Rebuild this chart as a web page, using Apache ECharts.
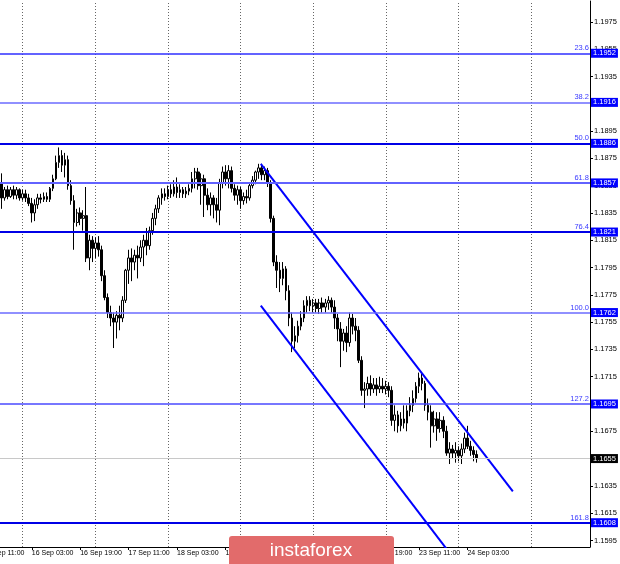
<!DOCTYPE html>
<html><head><meta charset="utf-8">
<script src="https://cdn.jsdelivr.net/npm/echarts@6/dist/echarts.min.js"></script>
<style>html,body{margin:0;padding:0;background:#fff}#c{width:620px;height:564px}</style>
</head><body><div id="c"></div>
<script>
// ---- time slots (hourly, weekends skipped) ----
const tradingDays = ['15 Sep','16 Sep','17 Sep','18 Sep','21 Sep','22 Sep','23 Sep','24 Sep','25 Sep'];
const firstHour = 17;
const slotCount = 195;
const categories = [];
for (let d = 0; d < tradingDays.length && categories.length < slotCount; d++) {
  for (let h = (d === 0 ? firstHour : 0); h < 24 && categories.length < slotCount; h++) {
    categories.push(tradingDays[d] + ' ' + (h < 10 ? '0' + h : h) + ':00');
  }
}
const xTickLabels = ['16 Sep 03:00','16 Sep 19:00','17 Sep 11:00','18 Sep 03:00','18 Sep 19:00',
  '21 Sep 11:00','22 Sep 03:00','22 Sep 19:00','23 Sep 11:00','24 Sep 03:00'];
const cutLabel = '15 Sep 11:00';
const daySeparators = ['16 Sep 00:00','17 Sep 00:00','18 Sep 00:00','21 Sep 00:00','22 Sep 00:00','23 Sep 00:00','24 Sep 00:00','25 Sep 00:00'];

// ---- EURUSD H1 candles ----
const opens = [
1.1857,1.1846,1.1852,1.1847,1.1852,1.1848,1.1852,1.1846,1.1849,1.1846,
1.1842,1.1835,1.1841,1.1846,1.1845,1.1847,1.1845,1.1853,1.1860,1.1872,
1.1877,1.1870,1.1874,1.1855,1.1844,1.1828,1.1835,1.1831,1.1833,1.1802,
1.1815,1.1809,1.1813,1.1808,1.1789,1.1773,1.1762,1.1758,1.1755,1.1760,
1.1758,1.1771,1.1793,1.1802,1.1799,1.1804,1.1802,1.1810,1.1815,1.1811,
1.1822,1.1831,1.1838,1.1846,1.1849,1.1847,1.1852,1.1849,1.1854,1.1850,
1.1852,1.1849,1.1851,1.1853,1.1860,1.1865,1.1855,1.1860,1.1848,1.1841,
1.1846,1.1841,1.1837,1.1857,1.1865,1.1860,1.1866,1.1853,1.1848,1.1852,
1.1844,1.1847,1.1846,1.1855,1.1859,1.1865,1.1868,1.1863,1.1866,1.1857,
1.1831,1.1799,1.1793,1.1787,1.1794,1.1778,1.1758,1.1741,1.1745,1.1752,
1.1758,1.1767,1.1771,1.1767,1.1769,1.1765,1.1769,1.1766,1.1769,1.1771,
1.1766,1.1758,1.1750,1.1741,1.1747,1.1740,1.1758,1.1752,1.1749,1.1727,
1.1705,1.1706,1.1710,1.1706,1.1709,1.1706,1.1708,1.1706,1.1708,1.1705,
1.1683,1.1687,1.1679,1.1684,1.1681,1.1690,1.1694,1.1699,1.1708,1.1714,
1.1710,1.1694,1.1689,1.1679,1.1684,1.1677,1.1683,1.1675,1.1659,1.1662,
1.1659,1.1661,1.1657,1.1662,1.1670,1.1664,1.1661,1.1658];
const closes = [
1.1846,1.1852,1.1847,1.1852,1.1848,1.1852,1.1846,1.1849,1.1846,1.1842,
1.1835,1.1841,1.1846,1.1845,1.1847,1.1845,1.1853,1.1860,1.1872,1.1877,
1.1870,1.1874,1.1855,1.1844,1.1828,1.1835,1.1831,1.1833,1.1802,1.1815,
1.1809,1.1813,1.1808,1.1789,1.1773,1.1762,1.1758,1.1755,1.1760,1.1758,
1.1771,1.1793,1.1802,1.1799,1.1804,1.1802,1.1810,1.1815,1.1811,1.1822,
1.1831,1.1838,1.1846,1.1849,1.1847,1.1852,1.1849,1.1854,1.1850,1.1852,
1.1849,1.1851,1.1853,1.1860,1.1865,1.1855,1.1860,1.1848,1.1841,1.1846,
1.1841,1.1837,1.1857,1.1865,1.1860,1.1866,1.1853,1.1848,1.1852,1.1844,
1.1847,1.1846,1.1855,1.1859,1.1865,1.1868,1.1863,1.1866,1.1857,1.1831,
1.1799,1.1793,1.1787,1.1794,1.1778,1.1758,1.1741,1.1745,1.1752,1.1758,
1.1767,1.1771,1.1767,1.1769,1.1765,1.1769,1.1766,1.1769,1.1771,1.1766,
1.1758,1.1750,1.1741,1.1747,1.1740,1.1758,1.1752,1.1749,1.1727,1.1705,
1.1706,1.1710,1.1706,1.1709,1.1706,1.1708,1.1706,1.1708,1.1705,1.1683,
1.1687,1.1679,1.1684,1.1681,1.1690,1.1694,1.1699,1.1708,1.1714,1.1710,
1.1694,1.1689,1.1679,1.1684,1.1677,1.1683,1.1675,1.1659,1.1662,1.1659,
1.1661,1.1657,1.1662,1.1670,1.1664,1.1661,1.1658,1.1655];
const highs = [
1.1864,1.1854,1.1855,1.1854,1.1855,1.1854,1.1853,1.1852,1.1852,1.1849,
1.1846,1.1845,1.1849,1.1849,1.1850,1.1850,1.1854,1.1863,1.1877,1.1883,
1.1881,1.1879,1.1877,1.1859,1.1848,1.1838,1.1839,1.1837,1.1854,1.1819,
1.1818,1.1817,1.1818,1.1811,1.1793,1.1776,1.1767,1.1762,1.1763,1.1767,
1.1774,1.1794,1.1808,1.1809,1.1808,1.1811,1.1815,1.1819,1.1824,1.1825,
1.1835,1.1841,1.1848,1.1853,1.1853,1.1855,1.1856,1.1859,1.1861,1.1856,
1.1854,1.1854,1.1856,1.1865,1.1868,1.1868,1.1864,1.1863,1.1853,1.1850,
1.1848,1.1846,1.1860,1.1869,1.1870,1.1870,1.1869,1.1856,1.1855,1.1854,
1.1850,1.1852,1.1857,1.1862,1.1866,1.1871,1.1871,1.1869,1.1868,1.1859,
1.1833,1.1804,1.1799,1.1799,1.1796,1.1782,1.1762,1.1752,1.1756,1.1763,
1.1771,1.1774,1.1774,1.1772,1.1772,1.1772,1.1773,1.1772,1.1774,1.1773,
1.1771,1.1761,1.1755,1.1750,1.1752,1.1762,1.1761,1.1758,1.1752,1.1730,
1.1711,1.1715,1.1716,1.1714,1.1714,1.1715,1.1714,1.1712,1.1711,1.1708,
1.1694,1.1690,1.1689,1.1694,1.1694,1.1700,1.1705,1.1711,1.1718,1.1717,
1.1712,1.1699,1.1694,1.1690,1.1689,1.1689,1.1686,1.1679,1.1667,1.1665,
1.1667,1.1664,1.1666,1.1674,1.1679,1.1668,1.1664,1.1661];
const lows = [
1.1838,1.1844,1.1845,1.1846,1.1845,1.1845,1.1844,1.1844,1.1843,1.1840,
1.1828,1.1829,1.1838,1.1842,1.1843,1.1843,1.1843,1.1851,1.1859,1.1868,
1.1865,1.1861,1.1852,1.1841,1.1808,1.1825,1.1826,1.1822,1.1799,1.1793,
1.1799,1.1802,1.1803,1.1785,1.1771,1.1758,1.1752,1.1736,1.1743,1.1749,
1.1755,1.1769,1.1783,1.1785,1.1793,1.1787,1.1799,1.1796,1.1804,1.1808,
1.1819,1.1826,1.1835,1.1841,1.1844,1.1845,1.1846,1.1847,1.1846,1.1846,
1.1846,1.1846,1.1848,1.1850,1.1853,1.1852,1.1841,1.1832,1.1837,1.1833,
1.1831,1.1828,1.1826,1.1853,1.1855,1.1853,1.1850,1.1844,1.1841,1.1838,
1.1841,1.1842,1.1844,1.1853,1.1856,1.1860,1.1859,1.1859,1.1854,1.1828,
1.1796,1.1780,1.1777,1.1782,1.1771,1.1752,1.1733,1.1736,1.1740,1.1749,
1.1755,1.1762,1.1763,1.1762,1.1762,1.1761,1.1762,1.1762,1.1764,1.1762,
1.1750,1.1741,1.1722,1.1734,1.1733,1.1737,1.1746,1.1741,1.1725,1.1701,
1.1692,1.1701,1.1701,1.1703,1.1701,1.1703,1.1703,1.1702,1.1700,1.1679,
1.1675,1.1674,1.1675,1.1677,1.1675,1.1686,1.1689,1.1696,1.1703,1.1705,
1.1690,1.1683,1.1663,1.1674,1.1668,1.1674,1.1670,1.1657,1.1651,1.1655,
1.1652,1.1653,1.1651,1.1659,1.1662,1.1657,1.1653,1.1652];

// ---- levels ----
const fibLevels   = [1.1952, 1.1916, 1.1886, 1.1857, 1.1821, 1.1762, 1.1695, 1.1608];
const fibPercents = ['23.6','38.2','50.0','61.8','76.4','100.0','127.2','161.8'];
const fibColors   = ['#2f2fff','#6b6bff','#0000e6','#6262ff','#0000e6','#6b6bff','#4a4aff','#0000e6'];
const fibWidths   = [1.5, 1.5, 2, 2, 2, 1.5, 1.5, 2];
const bidPrice = 1.1655;
const channelUpper = [[85.7, 1.1871], [169.0, 1.1631]];
const channelLower = [[85.7, 1.1767], [151.5, 1.1576]];
const yTicks = [1.1595,1.1615,1.1635,1.1655,1.1675,1.1695,1.1715,1.1735,1.1755,1.1775,
  1.1795,1.1815,1.1835,1.1855,1.1875,1.1895,1.1915,1.1935,1.1955,1.1975];
const yMin = 1.15902, yMax = 1.19903;

const FONT = '"Liberation Sans", Arial, sans-serif';
const candleData = opens.map((o, i) => [o, closes[i], lows[i], highs[i]]);
const tickIdx = new Set(xTickLabels.map(l => categories.indexOf(l)));
const CLEAR = 'rgba(0,0,0,0)';

const chart = echarts.init(document.getElementById('c'), null, {renderer: 'canvas'});
const option = {
  animation: false,
  backgroundColor: '#ffffff',
  grid: {left: 0, right: 30, top: 1, bottom: 17, containLabel: false},
  xAxis: [{
    type: 'category', data: categories, boundaryGap: true, position: 'bottom',
    axisLine: {onZero: false, lineStyle: {color: '#000', width: 1}},
    axisTick: {show: true, alignWithLabel: true, length: 3, lineStyle: {color: '#000'},
      interval: (i) => tickIdx.has(i)},
    axisLabel: {interval: (i) => tickIdx.has(i), align: 'left', margin: 3,
      fontSize: 7, fontFamily: FONT, color: '#000'},
    splitLine: {show: false}
  }, {
    type: 'value', min: -0.5, max: slotCount - 0.5, show: false,
    axisLine: {onZero: false}
  }],
  yAxis: [{
    type: 'value', position: 'right', min: yMin, max: yMax, scale: true,
    axisLine: {show: true, onZero: false, lineStyle: {color: '#000', width: 1}},
    axisTick: {show: true, length: 3, customValues: yTicks, lineStyle: {color: '#000'}},
    axisLabel: {customValues: yTicks, margin: 4, fontSize: 7.5, fontFamily: FONT, color: '#000',
      formatter: v => v.toFixed(4)},
    splitLine: {show: false}
  }],
  series: [
    {
      name: 'EURUSD', type: 'candlestick', xAxisIndex: 0, yAxisIndex: 0, data: candleData, z: 3,
      barWidth: 2.2,
      itemStyle: {color: '#ffffff', color0: '#000000', borderColor: '#000000', borderColor0: '#000000', borderWidth: 1},
      markLine: {silent: true, symbol: ['none','none'], label: {show: false}, z: 1,
        lineStyle: {color: '#666', type: [1, 2], width: 1},
        data: daySeparators.map(d => ({xAxis: d}))}
    },
    {
      name: 'upper', type: 'line', xAxisIndex: 1, yAxisIndex: 0, data: channelUpper, z: 4,
      symbol: 'none', lineStyle: {color: '#0000ff', width: 2}, clip: true,
      markLine: {silent: true, symbol: ['none','none'], precision: 6,
        data: fibLevels.map((v, k) => ({
          yAxis: v,
          lineStyle: {color: fibColors[k], width: fibWidths[k], type: 'solid'},
          label: {show: true, position: 'insideEndTop', distance: 1, formatter: fibPercents[k],
            color: '#3a3aff', fontSize: 7.5, fontFamily: FONT}
        })).concat([{
          yAxis: bidPrice,
          lineStyle: {color: '#c8c8c8', width: 1, type: 'solid'},
          label: {show: false}
        }])}
    },
    {
      name: 'lower', type: 'line', xAxisIndex: 1, yAxisIndex: 0, data: channelLower, z: 5,
      symbol: 'none', lineStyle: {color: '#0000ff', width: 2}, clip: true,
      markLine: {silent: true, symbol: ['none','none'], precision: 6,
        data: fibLevels.map(v => ({
          yAxis: v, lineStyle: {color: CLEAR, width: 1},
          label: {show: true, position: 'end', distance: 1, formatter: v.toFixed(4),
            color: '#fff', backgroundColor: '#0000ff', padding: [1, 2, 0, 2],
            fontSize: 7.5, fontFamily: FONT}
        })).concat([{
          yAxis: bidPrice, lineStyle: {color: CLEAR, width: 1},
          label: {show: true, position: 'end', distance: 1, formatter: bidPrice.toFixed(4),
            color: '#fff', backgroundColor: '#000', padding: [1, 2, 0, 2],
            fontSize: 7.5, fontFamily: FONT}
        }])}
    }
  ]
};
chart.setOption(option);

// cut-off first time label left of the plot, and the watermark
const xCut = chart.convertToPixel({xAxisIndex: 1}, categories.indexOf('16 Sep 03:00') - 16);
const yAxisPix = chart.convertToPixel({yAxisIndex: 0}, yMin);
chart.setOption({
  graphic: [
    {type: 'text', x: xCut, y: yAxisPix + 3, z: 50,
      style: {text: cutLabel, fill: '#000', font: '7px ' + FONT, align: 'left', verticalAlign: 'top'}},
    {type: 'rect', z: 100, shape: {x: 229, y: 536, width: 165, height: 32, r: 3},
      style: {fill: '#e26b6b'}},
    {type: 'text', z: 101, x: 311, y: 551,
      style: {text: 'instaforex', fill: '#ffffff', font: '19px ' + FONT, align: 'center', verticalAlign: 'middle'}}
  ]
});
</script></body></html>
